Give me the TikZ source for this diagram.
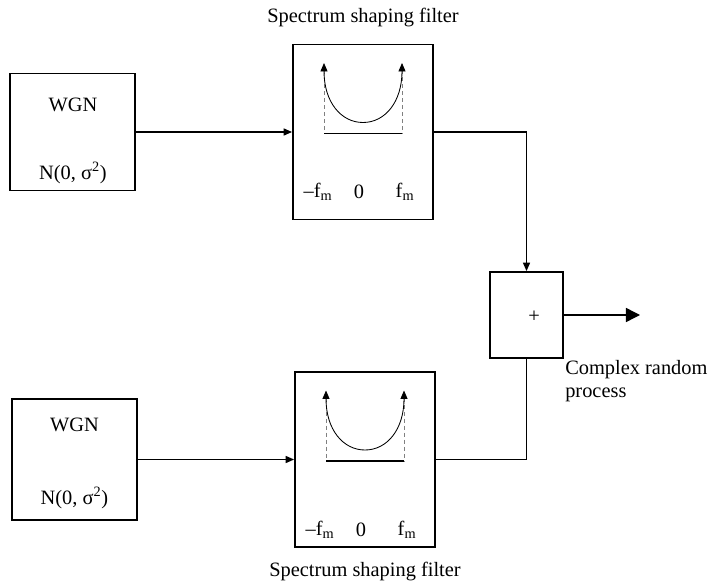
\documentclass[tikz,border=0pt]{standalone}
\usepackage{fontspec}
\setmainfont{Liberation Serif}
\usepackage{tikz}
\usetikzlibrary{arrows.meta}
\usetikzlibrary{positioning}

\tikzset{
  blk/.style={draw, line width=1.3pt, inner sep=0pt},
  conn/.style={line width=1pt},
  tip/.style={-{Triangle[length=6pt,width=5pt]}},
}

\begin{document}
\begin{tikzpicture}[x=0.025cm, y=-0.025cm, font=\fontsize{14.5}{16.5}\selectfont]
\useasboundingbox (0,0) rectangle (714,583);

% noise sources
\node[blk, minimum width=3.125cm, minimum height=2.925cm] (wgn1) at (72.5,132) {};
\node[blk, minimum width=3.125cm, minimum height=3.025cm] (wgn2) at (74.5,459.5) {};
\node (wgn1name) at (73,105) {WGN};
\node (wgn1var) at (73,173) {N(0, σ\textsuperscript{2})};
\node (wgn2name) at (74.5,425) {WGN};
\node (wgn2var) at (74.5,498) {N(0, σ\textsuperscript{2})};

% filters
\node[blk, minimum width=3.5cm, minimum height=4.375cm] (filt1) at (363,132) {};
\node[blk, minimum width=3.5cm, minimum height=4.375cm] (filt2) at (365,459.5) {};
\node (cap1) at (363,18) {Spectrum shaping filter};
\node (cap2) at (365,572) {Spectrum shaping filter};

\foreach \f/\ly in {filt1/60, filt2/70} {
  \begin{scope}[shift={(\f.center)}]
    \draw[gray, line width=0.4pt, dash pattern=on 3pt off 2pt] (-39,-62) -- (-39,1.5);
    \draw[gray, line width=0.4pt, dash pattern=on 3pt off 2pt] (39,-62) -- (39,1.5);
    \draw[line width=1.2pt] (-39,1.5) -- (39,1.5);
    \draw[line width=0.6pt, {Triangle[length=6pt,width=5pt]}-{Triangle[length=6pt,width=5pt]}]
      (-39,-69) .. controls (-39,-30) and (-22,-9.5) .. (0,-9.5)
      .. controls (22,-9.5) and (39,-30) .. (39,-69);
    \node (\f-lo) at (-45,\ly) {\textendash f\textsubscript{m}};
    \node (\f-zero) at (-4,\ly) {0};
    \node (\f-hi) at (42,\ly) {f\textsubscript{m}};
  \end{scope}
}

% adder
\node[blk, minimum width=1.825cm, minimum height=2.15cm] (adder) at (526.5,315) {};
\node (plus) at (534,317) {+};
\coordinate (out) at (640,315);
\node[align=left, anchor=west, inner sep=0pt] (outlbl) at (565,381) {Complex random\\process};

\draw[conn, tip] (wgn1) -- (filt1);
\draw[conn, tip] (wgn2) -- (filt2);
\draw[conn, tip] (filt1.east) -| (adder.north);
\draw[conn] (filt2.east) -| (adder.south);
\draw[conn, -{Triangle[length=10pt,width=10pt]}] (adder.east) -- (out);

\end{tikzpicture}
\end{document}
